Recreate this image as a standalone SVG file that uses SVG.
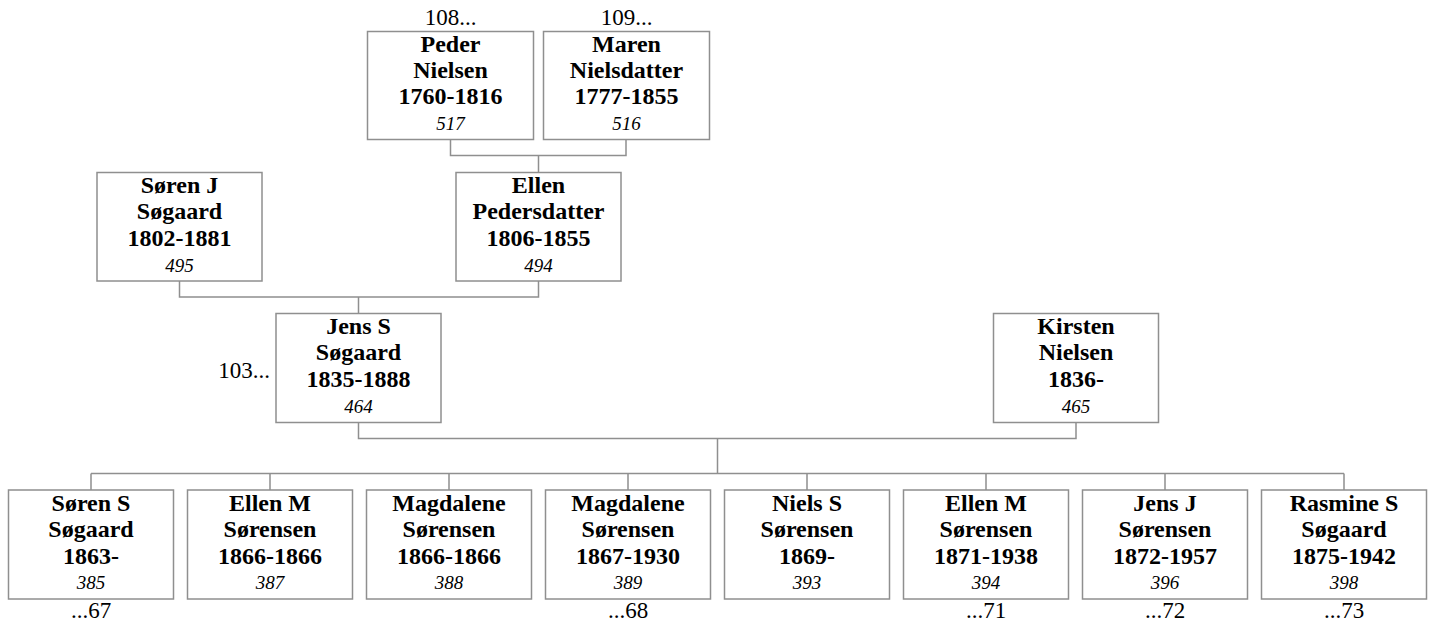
<svg xmlns="http://www.w3.org/2000/svg" width="1432" height="625" viewBox="0 0 1432 625">
<style>
.box{fill:#ffffff;stroke:#8f8f8f;stroke-width:1.5}
.ln{fill:none;stroke:#8f8f8f;stroke-width:1.5}
.nm{font-family:"Liberation Serif","Times New Roman",serif;font-weight:bold;font-size:24px;fill:#000;text-anchor:middle}
.id{font-family:"Liberation Serif","Times New Roman",serif;font-style:italic;font-size:19px;fill:#000;text-anchor:middle}
.ref{font-family:"Liberation Serif","Times New Roman",serif;font-size:23px;fill:#000;text-anchor:middle}
</style>
<rect width="1432" height="625" fill="#ffffff"/>
<g id="connectors">
<path class="ln" d="M450.5,139.5V155.5H626V139.5M538.5,155.5V172.5"/>
<path class="ln" d="M179.5,281V297H538.5V281M358.5,297V313.5"/>
<path class="ln" d="M358.5,422.5V438.5H1076V422.5M717.5,438.5V473.5"/>
<path class="ln" d="M91,473.5H1344M91,473.5V490M270,473.5V490M449,473.5V490M628,473.5V490M807,473.5V490M986,473.5V490M1165,473.5V490M1344,473.5V490"/>
</g>
<g id="n517"><rect class="box" x="367.5" y="31.5" width="166" height="108"/><text class="ref" x="450.5" y="25">108...</text><text class="nm" x="450.5" y="52">Peder</text><text class="nm" x="450.5" y="78">Nielsen</text><text class="nm" x="450.5" y="104">1760-1816</text><text class="id" x="450.5" y="130">517</text></g>
<g id="n516"><rect class="box" x="543.5" y="31.5" width="166" height="108"/><text class="ref" x="626.5" y="25">109...</text><text class="nm" x="626.5" y="52">Maren</text><text class="nm" x="626.5" y="78">Nielsdatter</text><text class="nm" x="626.5" y="104">1777-1855</text><text class="id" x="626.5" y="130">516</text></g>
<g id="n495"><rect class="box" x="97" y="172.5" width="165" height="108.5"/><text class="nm" x="179.5" y="193">Søren J</text><text class="nm" x="179.5" y="219">Søgaard</text><text class="nm" x="179.5" y="246">1802-1881</text><text class="id" x="179.5" y="272">495</text></g>
<g id="n494"><rect class="box" x="456" y="172.5" width="165" height="108.5"/><text class="nm" x="538.5" y="193">Ellen</text><text class="nm" x="538.5" y="219">Pedersdatter</text><text class="nm" x="538.5" y="246">1806-1855</text><text class="id" x="538.5" y="272">494</text></g>
<g id="n464"><rect class="box" x="276" y="313.5" width="165" height="109"/><text class="ref" x="270" y="378" style="text-anchor:end">103...</text><text class="nm" x="358.5" y="334">Jens S</text><text class="nm" x="358.5" y="360">Søgaard</text><text class="nm" x="358.5" y="387">1835-1888</text><text class="id" x="358.5" y="413">464</text></g>
<g id="n465"><rect class="box" x="993.5" y="313.5" width="165" height="109"/><text class="nm" x="1076" y="334">Kirsten</text><text class="nm" x="1076" y="360">Nielsen</text><text class="nm" x="1076" y="387">1836-</text><text class="id" x="1076" y="413">465</text></g>
<g id="n385"><rect class="box" x="8.5" y="490" width="165" height="109"/><text class="nm" x="91" y="511">Søren S</text><text class="nm" x="91" y="537">Søgaard</text><text class="nm" x="91" y="564">1863-</text><text class="id" x="91" y="589">385</text><text class="ref" x="91" y="618">...67</text></g>
<g id="n387"><rect class="box" x="187.5" y="490" width="165" height="109"/><text class="nm" x="270" y="511">Ellen M</text><text class="nm" x="270" y="537">Sørensen</text><text class="nm" x="270" y="564">1866-1866</text><text class="id" x="270" y="589">387</text></g>
<g id="n388"><rect class="box" x="366.5" y="490" width="165" height="109"/><text class="nm" x="449" y="511">Magdalene</text><text class="nm" x="449" y="537">Sørensen</text><text class="nm" x="449" y="564">1866-1866</text><text class="id" x="449" y="589">388</text></g>
<g id="n389"><rect class="box" x="545.5" y="490" width="165" height="109"/><text class="nm" x="628" y="511">Magdalene</text><text class="nm" x="628" y="537">Sørensen</text><text class="nm" x="628" y="564">1867-1930</text><text class="id" x="628" y="589">389</text><text class="ref" x="628" y="618">...68</text></g>
<g id="n393"><rect class="box" x="724.5" y="490" width="165" height="109"/><text class="nm" x="807" y="511">Niels S</text><text class="nm" x="807" y="537">Sørensen</text><text class="nm" x="807" y="564">1869-</text><text class="id" x="807" y="589">393</text></g>
<g id="n394"><rect class="box" x="903.5" y="490" width="165" height="109"/><text class="nm" x="986" y="511">Ellen M</text><text class="nm" x="986" y="537">Sørensen</text><text class="nm" x="986" y="564">1871-1938</text><text class="id" x="986" y="589">394</text><text class="ref" x="986" y="618">...71</text></g>
<g id="n396"><rect class="box" x="1082.5" y="490" width="165" height="109"/><text class="nm" x="1165" y="511">Jens J</text><text class="nm" x="1165" y="537">Sørensen</text><text class="nm" x="1165" y="564">1872-1957</text><text class="id" x="1165" y="589">396</text><text class="ref" x="1165" y="618">...72</text></g>
<g id="n398"><rect class="box" x="1261.5" y="490" width="165" height="109"/><text class="nm" x="1344" y="511">Rasmine S</text><text class="nm" x="1344" y="537">Søgaard</text><text class="nm" x="1344" y="564">1875-1942</text><text class="id" x="1344" y="589">398</text><text class="ref" x="1344" y="618">...73</text></g>
</svg>
